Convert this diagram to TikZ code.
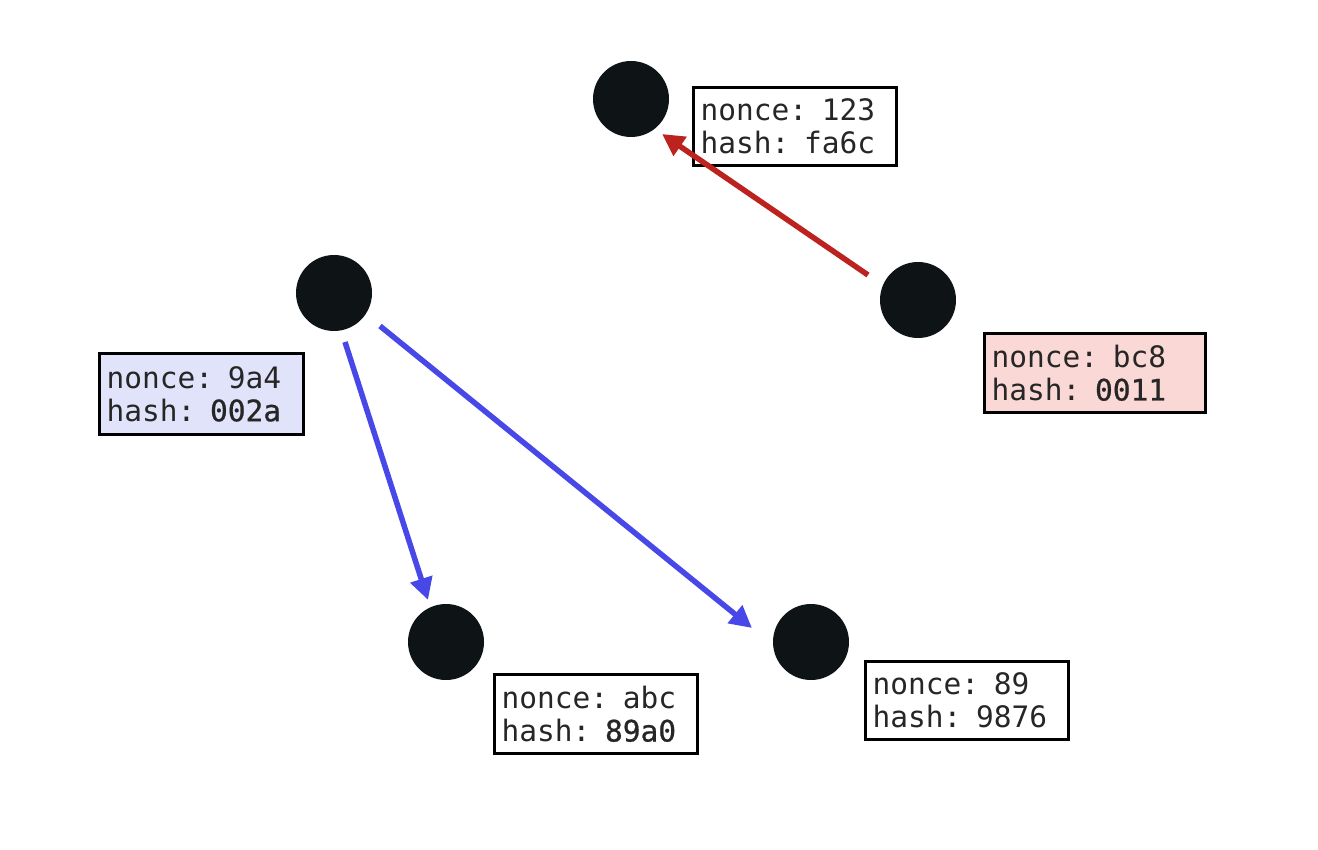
\documentclass[tikz,border=0pt]{standalone}
\usepackage{fontspec}
\setmonofont{DejaVu Sans Mono}
\newfontfamily\hashfont{DejaVu Sans Mono}[FakeBold=0.8]
\usetikzlibrary{arrows.meta}
\definecolor{dotc}{RGB}{14,19,22}
\definecolor{redarrow}{RGB}{188,34,30}
\definecolor{bluearrow}{RGB}{72,72,232}
\definecolor{pinkfill}{RGB}{249,216,213}
\definecolor{bluefill}{RGB}{225,227,250}
\tikzset{
  dot/.style={circle, fill=dotc, draw=none, minimum size=76pt, inner sep=0pt, outer sep=0pt},
  infobox/.style={draw=black, line width=3pt, rectangle, anchor=north west, align=left,
    text width=189pt, inner xsep=7pt, inner ysep=0pt, minimum height=78pt,
    font=\ttfamily\fontsize{29.5}{33}\selectfont, text=black!85},
  link/.style={line width=5.5pt, -{Triangle[length=22pt,width=22pt]}},
}
\begin{document}
\begin{tikzpicture}[x=1pt,y=-1pt]
\useasboundingbox[fill=white] (0,0) rectangle (1318,850);
% dots
\node[dot] (top) at (631,99) {};
\node[dot] (right) at (918,300) {};
\node[dot] (left) at (334,293) {};
\node[dot] (bl) at (446,642) {};
\node[dot] (br) at (811,642) {};
% labels
\node[infobox, fill=white] (ltop) at (692,86) {nonce: 123\\hash: fa6c};
\node[infobox, fill=pinkfill, text width=207pt, minimum height=79pt] (lright) at (983,332) {nonce: bc8\\hash: {\hashfont 0011}};
\node[infobox, fill=bluefill, text width=190pt, minimum height=81pt] (lleft) at (98,352) {nonce: 9a4\\hash: {\hashfont 002a}};
\node[infobox, fill=white, minimum height=79pt] (lbl) at (493,673) {nonce: abc\\hash: {\hashfont 89a0}};
\node[infobox, fill=white] (lbr) at (864,660) {nonce: 89\\hash: 9876};
% arrow ends
\coordinate (r1) at (868,275);
\coordinate (r2) at (662,134);
\coordinate (b1s) at (345,342);
\coordinate (b1e) at (428,600);
\coordinate (b2s) at (380,326);
\coordinate (b2e) at (752,628);
\draw[link, redarrow] (r1) -- (r2);
\draw[link, bluearrow] (b1s) -- (b1e);
\draw[link, bluearrow] (b2s) -- (b2e);
\end{tikzpicture}
\end{document}
